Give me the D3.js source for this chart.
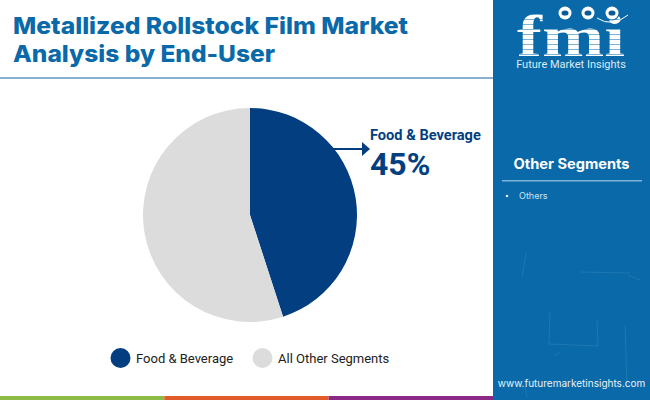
<!DOCTYPE html>
<html lang="en">
<head>
    <meta charset="UTF-8">
    <title>Metallized Rollstock Film Market Analysis by End-User</title>
    <script src="https://d3js.org/d3.v7.min.js"></script>
</head>
<body style="margin: 0px; background: #fff;">
    <script>
        var categories = ['Food & Beverage', 'All Other Segments'];
        var shares = [45, 55];
        var colors = ['#033f80', '#dcdcdc'];
        var titleLines = ['Metallized Rollstock Film Market', 'Analysis by End-User'];
        var otherSegments = ['Others'];
        var bottomBars = ['#8cbb47', '#e25b2a', '#8a2a86'];

        var width = 650;
        var height = 400;
        var panelX = 493;
        var blue = '#0a69a8';

        var svg = d3.select('body').append('svg')
            .attr('width', width)
            .attr('height', height)
            .style('display', 'block');

        // title block
        svg.selectAll('text.title')
            .data(titleLines)
            .enter().append('text')
            .attr('class', 'title')
            .attr('x', 13)
            .attr('y', function (d, i) { return 34 + i * 28; })
            .attr('textLength', function (d, i) { return i == 0 ? 395 : 262; })
            .attr('lengthAdjust', 'spacingAndGlyphs')
            .attr('font-family', 'Inter, "Open Sans", sans-serif')
            .attr('font-weight', 800)
            .attr('font-size', '23.5px')
            .attr('fill', blue)
            .text(function (d) { return d; });

        svg.append('rect')
            .attr('x', 0).attr('y', 77)
            .attr('width', panelX).attr('height', 2)
            .attr('fill', '#8ab0cf');

        // pie
        var pie = d3.pie().sort(null).value(function (d) { return d; });
        var arc = d3.arc().innerRadius(0).outerRadius(107);
        var pieGroup = svg.append('g').attr('transform', 'translate(250,215)');
        pieGroup.selectAll('path')
            .data(pie(shares))
            .enter().append('path')
            .attr('d', arc)
            .attr('fill', function (d, i) { return colors[i]; });

        // callout
        svg.append('line')
            .attr('x1', 332).attr('y1', 149)
            .attr('x2', 363).attr('y2', 149)
            .attr('stroke', colors[0])
            .attr('stroke-width', 2);
        svg.append('path')
            .attr('d', 'M362,142L370,149L362,156Z')
            .attr('fill', colors[0]);
        svg.append('text')
            .attr('x', 370).attr('y', 140)
            .attr('font-family', 'Roboto, sans-serif')
            .attr('font-weight', 700)
            .attr('font-size', '14.6px')
            .attr('fill', colors[0])
            .text(categories[0]);
        svg.append('text')
            .attr('x', 370).attr('y', 175)
            .attr('font-family', 'Roboto, sans-serif')
            .attr('font-weight', 700)
            .attr('font-size', '32px')
            .attr('fill', colors[0])
            .text(shares[0] + '%');

        // legend
        var legendDots = [120.5, 262.5];
        var legend = svg.selectAll('g.legend')
            .data(categories)
            .enter().append('g')
            .attr('class', 'legend')
            .attr('transform', function (d, i) { return 'translate(' + legendDots[i] + ',358)'; });
        legend.append('circle')
            .attr('r', 10)
            .attr('fill', function (d, i) { return colors[i]; });
        legend.append('text')
            .attr('x', 15.5).attr('y', 5)
            .attr('font-family', 'Roboto, sans-serif')
            .attr('font-size', '13px')
            .attr('fill', '#222')
            .text(function (d) { return d; });

        // bottom strip
        var stripX = d3.scaleBand().domain(d3.range(bottomBars.length)).range([0, panelX]);
        svg.selectAll('rect.strip')
            .data(bottomBars)
            .enter().append('rect')
            .attr('class', 'strip')
            .attr('x', function (d, i) { return stripX(i); })
            .attr('y', 396)
            .attr('width', stripX.bandwidth())
            .attr('height', 4)
            .attr('fill', function (d) { return d; });

        // side panel
        svg.append('rect')
            .attr('x', panelX).attr('y', 0)
            .attr('width', width - panelX).attr('height', height)
            .attr('fill', blue);

        // faint scratches on the panel
        var scratches = svg.append('g')
            .attr('stroke', '#6fb6d8')
            .attr('stroke-opacity', 0.25)
            .attr('stroke-width', 0.8)
            .attr('fill', 'none');
        ['M526,253L522,277', 'M628,275L640,280', 'M550,311L549,344L598,346L597,320',
            'M625,325L627,388', 'M580,272L630,273', 'M560,352L554,356', 'M525,387L527,397'].forEach(function (d) {
            scratches.append('path').attr('d', d);
        });

        // logo, the stripes come from the fill so the text stays uncovered
        var stripes = svg.append('defs').append('pattern')
            .attr('id', 'logoStripes')
            .attr('patternUnits', 'userSpaceOnUse')
            .attr('width', 10).attr('height', 5);
        stripes.append('rect').attr('width', 10).attr('height', 5).attr('fill', '#fff');
        stripes.append('rect').attr('y', 4).attr('width', 10).attr('height', 1).attr('fill', '#7db4d6');

        var logo = svg.append('g');
        logo.append('text')
            .attr('x', 517).attr('y', 56)
            .attr('font-family', '"Liberation Serif", serif')
            .attr('font-weight', 700)
            .attr('font-size', '60px')
            .attr('textLength', 108)
            .attr('lengthAdjust', 'spacingAndGlyphs')
            .attr('fill', 'url(#logoStripes)')
            .text('fmi');
        [[565, 13], [588, 13], [612, 13]].forEach(function (c) {
            logo.append('circle')
                .attr('cx', c[0]).attr('cy', c[1]).attr('r', 7.5)
                .attr('fill', blue);
            logo.append('circle')
                .attr('cx', c[0]).attr('cy', c[1]).attr('r', 6.5)
                .attr('fill', '#fff');
            logo.append('ellipse')
                .attr('cx', c[0]).attr('cy', c[1])
                .attr('rx', 3.5).attr('ry', 2.6)
                .attr('fill', '#0a5a94');
        });
        logo.append('path')
            .attr('d', 'M597,18Q612,28 628,15')
            .attr('fill', 'none')
            .attr('stroke', '#fff')
            .attr('stroke-width', 1);
        logo.append('text')
            .attr('x', 571).attr('y', 68)
            .attr('text-anchor', 'middle')
            .attr('font-family', 'Roboto, sans-serif')
            .attr('font-size', '11px')
            .attr('fill', '#dcebf5')
            .text('Future Market Insights');

        // other segments
        svg.append('text')
            .attr('x', 571.5).attr('y', 169)
            .attr('text-anchor', 'middle')
            .attr('font-family', 'Inter, "Open Sans", sans-serif')
            .attr('font-weight', 700)
            .attr('font-size', '14px')
            .attr('textLength', 116)
            .attr('lengthAdjust', 'spacingAndGlyphs')
            .attr('fill', '#fff')
            .text('Other Segments');
        svg.append('rect')
            .attr('x', 502).attr('y', 180)
            .attr('width', 140).attr('height', 1.5)
            .attr('fill', '#7fb3dc');
        var items = svg.selectAll('g.item')
            .data(otherSegments)
            .enter().append('g')
            .attr('class', 'item')
            .attr('transform', function (d, i) { return 'translate(507,' + (196 + i * 14) + ')'; });
        items.append('circle').attr('r', 1.3).attr('fill', '#dcebf5');
        items.append('text')
            .attr('x', 12).attr('y', 3)
            .attr('font-family', 'Inter, "Open Sans", sans-serif')
            .attr('font-size', '9px')
            .attr('fill', '#cfe4f3')
            .text(function (d) { return d; });

        svg.append('text')
            .attr('x', 571.5).attr('y', 387)
            .attr('text-anchor', 'middle')
            .attr('font-family', 'Inter, "Open Sans", sans-serif')
            .attr('font-size', '10px')
            .attr('fill', '#e8f2f9')
            .text('www.futuremarketinsights.com');
    </script>
</body>
</html>
